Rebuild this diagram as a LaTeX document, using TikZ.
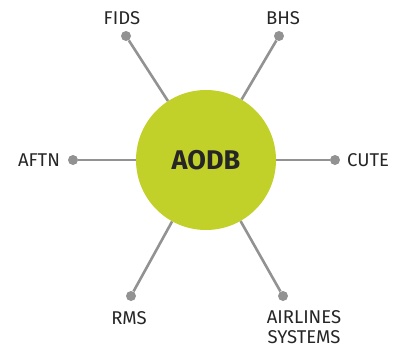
\documentclass[tikz,border=0pt]{standalone}
\usepackage{fontspec}
\setmainfont{Fira Sans}
\usepackage{tikz}
\usetikzlibrary{positioning}
\definecolor{hubgreen}{HTML}{C2D02A}
\definecolor{spokegrey}{HTML}{929292}
\tikzset{
    x=1pt,y=-1pt,
    hub/.style ={circle, fill=hubgreen, minimum size=140pt, inner sep=0pt, font=\fontsize{27}{30}\selectfont\bfseries, text=black!85},
    point/.style = {circle, fill=spokegrey, inner sep=0pt, minimum size=10pt},
    spoke/.style = {draw=spokegrey, line width=2.6pt},
    lbl/.style = {inner sep=0pt, align=center, font=\fontsize{18.5}{20.5}\selectfont, text=black!85}
}
\begin{document}
\begin{tikzpicture}
    \useasboundingbox (0,0) rectangle (402,348);
    %%Nodes
    \node[point] (fids) at (126,36) {};
    \node[point] (bhs) at (279,36) {};
    \node[point] (aftn) at (73,160) {};
    \node[point] (cute) at (335,160) {};
    \node[point] (rms) at (131,296) {};
    \node[point] (airl) at (283,296) {};
    \node[hub] (aodb) at (206,160) {AODB};

    %%Labels
    \node[lbl] (fidsl) at (122,18) {FIDS};
    \node[lbl] (bhsl) at (283,18) {BHS};
    \node[lbl] (aftnl) at (39,160) {AFTN};
    \node[lbl] (cutel) at (368,160) {CUTE};
    \node[lbl] (rmsl) at (129,318) {RMS};
    \node[lbl, anchor=north] (airll) at (304,310) {AIRLINES\\SYSTEMS};

    % Spokes
    \path (aodb) edge[spoke] (fids);
    \path (aodb) edge[spoke] (bhs);
    \path (aodb) edge[spoke] (aftn);
    \path (aodb) edge[spoke] (cute);
    \path (aodb) edge[spoke] (rms);
    \path (aodb) edge[spoke] (airl);
\end{tikzpicture}
\end{document}
